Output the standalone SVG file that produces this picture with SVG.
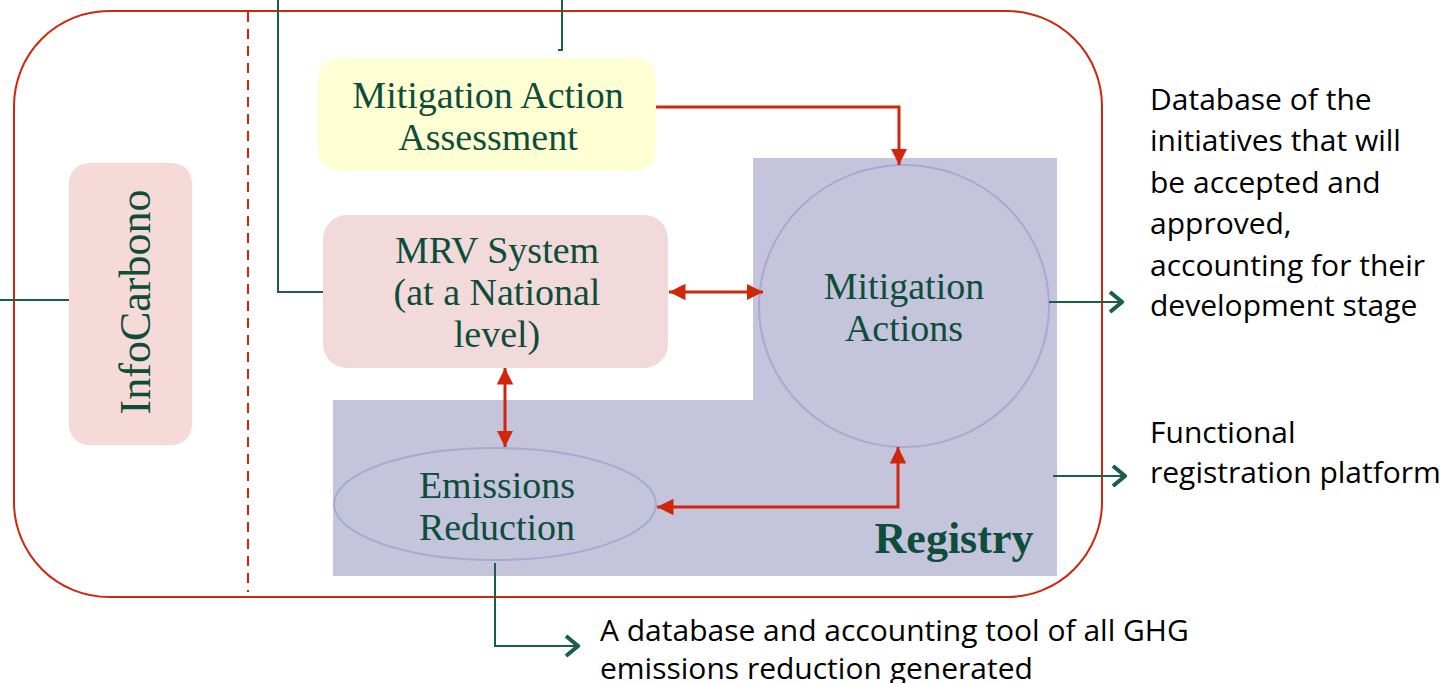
<svg xmlns="http://www.w3.org/2000/svg" width="1456" height="683" viewBox="0 0 1456 683">
<style>
.serif{font-family:"Liberation Serif","DejaVu Serif",serif;fill:#0d4d3a;text-anchor:middle}
.lbl{font-family:"Open Sans","Liberation Sans",sans-serif;fill:#000;font-size:30px}
.red{stroke:#d0260a;stroke-width:3;fill:none}
.teal{stroke:#1a5e4e;stroke-width:2;fill:none}
</style>
<defs>
<marker id="rh" viewBox="0 0 10 10" refX="10" refY="5" markerWidth="5.5" markerHeight="5.5" orient="auto-start-reverse" markerUnits="strokeWidth">
<path d="M0,0 L10,5 L0,10 z" fill="#d0260a"/>
</marker>
<marker id="th" viewBox="0 0 16 24" refX="14" refY="12" markerWidth="16" markerHeight="24" orient="auto" markerUnits="userSpaceOnUse">
<path d="M2,2 L14,12 L2,22" fill="none" stroke="#1a5e4e" stroke-width="4"/>
</marker>
</defs>
<rect width="1456" height="683" fill="#fff"/>
<g id="frame">
<rect x="14" y="11" width="1088" height="586" rx="95" ry="95" fill="none" stroke="#d0260a" stroke-width="2"/>
<line x1="248" y1="12" x2="248" y2="592" stroke="#d0260a" stroke-width="2" stroke-dasharray="10,7"/>
</g>
<g id="registry">
<path d="M753,158 H1057 V576 H333 V400 H753 Z" fill="#c4c4dc"/>
<text class="serif" x="954" y="553" font-size="44" font-weight="bold">Registry</text>
</g>
<g id="assessment">
<rect x="318" y="58" width="338" height="112" rx="20" fill="#ffffd4"/>
<text class="serif" font-size="38"><tspan x="488" y="108">Mitigation Action</tspan><tspan x="488" y="150">Assessment</tspan></text>
</g>
<g id="mrv">
<rect x="323" y="215" width="345" height="153" rx="24" fill="#f2dadb"/>
<text class="serif" font-size="38"><tspan x="497" y="263">MRV System</tspan><tspan x="497" y="305">(at a National</tspan><tspan x="497" y="347">level)</tspan></text>
</g>
<g id="infocarbono">
<rect x="69" y="163" width="123" height="282" rx="20" fill="#f5dad7"/>
<text class="serif" font-size="44" transform="translate(150,302) rotate(-90)" x="0" y="0">InfoCarbono</text>
</g>
<g id="mitigation">
<ellipse cx="904" cy="306" rx="145" ry="141" fill="#c4c4dc" stroke="#a9a9cf" stroke-width="2"/>
<text class="serif" font-size="38"><tspan x="904" y="299">Mitigation</tspan><tspan x="904" y="341">Actions</tspan></text>
</g>
<g id="emissions">
<ellipse cx="495" cy="504" rx="161" ry="56" fill="#c4c4dc" stroke="#a9a9cf" stroke-width="2"/>
<text class="serif" font-size="38"><tspan x="497" y="498">Emissions</tspan><tspan x="497" y="540">Reduction</tspan></text>
</g>
<g id="connectors">
<polyline class="red" points="656,107 899,107 899,165" marker-end="url(#rh)"/>
<line class="red" x1="669" y1="292" x2="763" y2="292" marker-start="url(#rh)" marker-end="url(#rh)"/>
<line class="red" x1="505" y1="368" x2="505" y2="447" marker-start="url(#rh)" marker-end="url(#rh)"/>
<polyline class="red" points="657,507 898,507 898,447" marker-start="url(#rh)" marker-end="url(#rh)"/>
<polyline class="teal" points="0,300 69,300"/>
<polyline class="teal" points="278,0 278,292 323,292"/>
<polyline class="teal" points="562,0 562,50 558,50"/>
<line class="teal" x1="1049" y1="302" x2="1122" y2="302" marker-end="url(#th)"/>
<line class="teal" x1="1053" y1="476" x2="1125" y2="476" marker-end="url(#th)"/>
<polyline class="teal" points="495,563 495,646 578,646" marker-end="url(#th)"/>
</g>
<g id="labels">
<text class="lbl"><tspan x="1150" y="110">Database of the</tspan><tspan x="1150" y="151">initiatives that will</tspan><tspan x="1150" y="193">be accepted and</tspan><tspan x="1150" y="234">approved,</tspan><tspan x="1150" y="276">accounting for their</tspan><tspan x="1150" y="316">development stage</tspan></text>
<text class="lbl"><tspan x="1150" y="443">Functional</tspan><tspan x="1150" y="483">registration platform</tspan></text>
<text class="lbl"><tspan x="600" y="641">A database and accounting tool of all GHG</tspan><tspan x="600" y="679">emissions reduction generated</tspan></text>
</g>
</svg>
